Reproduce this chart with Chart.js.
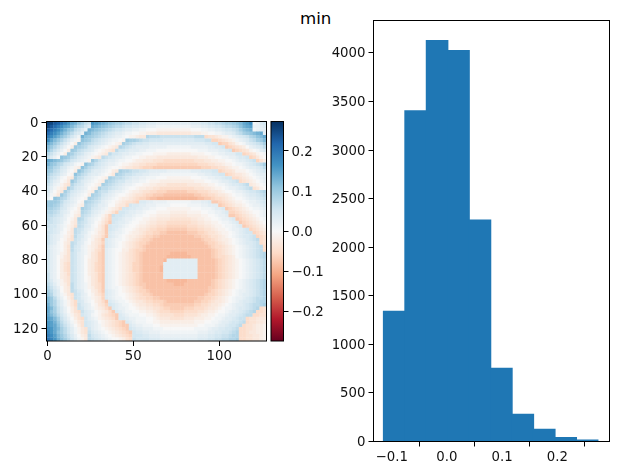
<!DOCTYPE html>
<html>
<head>
<meta charset="utf-8">
<title>min</title>
<script src="https://cdn.jsdelivr.net/npm/chart.js@4"></script>
<style>
  html, body { margin: 0; padding: 0; background: #fff; }
  #page { position: relative; width: 618px; height: 475px; overflow: hidden; }
  canvas { position: absolute; }
  #title { position: absolute; left: 300px; top: 9px; font: 16.67px/20px "DejaVu Sans", sans-serif; color: #000; }
</style>
</head>
<body>
<div id="page">
  <div id="title">min</div>
  <canvas id="heat" width="270" height="270" style="left:0;top:100px"></canvas>
  <canvas id="bar" width="60" height="270" style="left:266px;top:100px"></canvas>
  <canvas id="hist" width="298" height="475" style="left:320px;top:0"></canvas>
</div>
<script>
// image cells, 2x2 px each, one row per string; every letter is a level from levelCodes, spaces are ignored
const levelCodes = 'abcdefghijklmnopqrstuvwxyzABCDEFGHIJKLM';
const levelStart = -0.11;
const levelStep = 0.01;
const heatRows = [
  'LKIHFDBzywusr BAzyxwvuutssrrqqpppoooooo oooopppqqrrsstuuvwxzAC mnpq',
  'KIGECAzxvtsqo zyxwvutssrqqppoonnnmmmmmm mmmmnnnooppqqrsstuwyzA nnop',
  'IGECAywvsrpn y xwvutsrqqpoonnmmlllkkkkkk kkkklllmmnnoopqqrsuwxy mnoo',
  'GECAywusqpn yx vutsrqpoonmmllkkjjjiiiiii iiiijjjkkllmmnooprsuvw xyz o',
  'ECAywusqom ywvutsrqponnmlkkjii tsssrr rrrrrrr r sss ghhijkkmnopqrtuwxz',
  'Czxvtrpnmk wvusrqponmmlk vuutsrrqqqq ppppp pppp qqq rr ffghijkmnoprsuvx',
  'zxvtrpnlj wutsrqponmlkj utsrqqpp oooo oooo oooo oooo ppqq effhiklmopqrsu',
  'xvtrpnlj vutsqponmlkji tsrqpoooo nnnnn mmmmmmm nnnnn oo pp q efghijlnopqs',
  'wtrpnlj vusrqpomlkjih sqqpooonn mmm llll llll llll mmm nnn oo p q efghiklmop',
  'trpnlj vusrqonmlkji sqqpoonnmm lll kkkk jjjjjjj kkkk ll mm nn ooo qq fghiklm',
  'rpnl wvusrponmkji srqpoonmmllkk jjj iiii iiii iiii jjj kk ll mm nn o pp q fgikl',
  'zyxwvtsqponmk vtrqpoonmmllkjj iii hhh ggg ggg ggg hhh ii jj kk ll m n oo p q r fhj',
  'ywvtsqpomlk wutrqponnmlkkjiihh ggg ffff ffff ffff ggg hh ii j kk l mm n o p q r s u',
  'wvtsqpnmkj wusrqponmllkjiihhg fff eeee eeee eeee ee fff gg hh i j kk l m n oo p q s',
  'vusrpomlj wusrpoonmlji uttsrrqqp ooooo nnnnnnn ooo ppp qq fghhikkklmnopq',
  'usrqonlk wusrpoonmlki utsrrqppoo nnn mmmm mmmm mmm nn oo pp qq fghiijklmnoo',
  'trqomlji usrponmlkj utssrqpoonn mmm lll kkkkkkk lll mm nn oo p qq gghijklmno',
  'sqonlki vtrponmlkj utsrqqoonnmml kkk jjjjj jjjjj kkk ll mm n oo p q r ghijklmn',
  'rpnmkih trqpnmlkj utsrqponnmllkkjj iii hhhhhh iiii jj kk l mm n o pp q r s ijklm',
  'qomkjh usqponlkj ussrqponmllkjjiihh ggggg ggggg hhh ii j kk l m nn o p q r s hikl',
  'pnlji usqponmkj usrrponnmlkjjihhgg fff eeeeee fff ggg h ii j k ll m nn o p qq r s t',
  'omki vtrponmlj utsqponmllkjihhgff eee ddddddddd ee ff gg h ii j k l mm n o pp q r s',
  'nl wvtsqonmlk utsrponmlkjjihgffe dd cccc cccc cccc dd ee f gg h i j k ll m n oo p q r',
  'vvvusqponlk utsrqonmlkjihhgf ppoonnnnmmmmmmmnnnoop eefghijkklmnnopq',
  'vvutrponmkj tsrqoonlljiig qppoonnnmmmmlllllmmmmnnooo efghijjklmnnop',
  'uutsqpnmlj utsqponmkjig qqppoonnmmlllkkkkkkklllmmmnoop efghijklmmno',
  'ttsrponlkj tsrponmkjhf qqpoonnmlll kkkk jjjjj kkkk ll mm nn o p ffghijkllmn',
  'ssrqpnmlji srqonmkif rqqpoonmmllkk jjjj iiiii jjjj kk ll m nn o eefghijklmn',
  'srqponlki tsqonmljhf qqponnmllkkjj iiii hhhhhh ii jj kk ll m nn o p efghijklm',
  'rrqpomlji srqonlkige qpoonmllkkjii hhh ggggggg hh ii jj kk l mm n o p efghijkl',
  'rqqonmkjh srpomljhe qpponmllkjjihh ggg ffffff ggg hh ii j kk l mm n o p efghijk',
  'qqponlki srqonmkjhe qponmllkjiihgg fff eeeeee fff gg hh i j kk l m nn o p q fghij',
  'rqpomlji srpomlkihe ponnmlkjjihggffee dddddd eee ff g hh i j kk l m n o p qq fghi',
  'rponmkjh sqpnmkjige ponmlkjjihgffee ddddd ddddd ee ff g hh i j k l m n o pp q r fgh',
  'rponlkih rqonlkihe ponmmlkjihgffe ddddd dddd ddddd e ff g h i jj k l m n o p q r s gh',
  'rpomlji srpomljihf ponmlkjihgffe dddd ddddd dddd ddd e ff g h i j k l m n o pp q r gh',
  'qonmljh sqpnmkjige ponmlkjihgfe ddd dddddd dddddd ddd e f gg h i j k l m n o p q r s g',
  'qonmljh sqpnmkjhge onmlljjhgffe ddd ddddd dddd dddd ddd e f g h i j k l m n o p q r s g',
  'qonmkjh rqonmkihfe onmlkjihgfe ddd ddddd ccccc ddddd dd e f ghijklmnopqrst',
  'qonlkih rqonlkihfe onmlkjihgfe dd ddddd ccccccc dddd dd e f gg h i j l m n o p q r s t',
  'qonljih rqonljihfe onmlkjihgfedddddd c ooooo oooo dddddefghijklmnopqrs',
  'qonljhg rqonljigfe onmlkjihffedddddd ooooo ooooo dddddefghijklmnopqrs',
  'qonljhg rqonljigfe onmlkjihffeddddd c ooooo ooooo dddddefghijklmnopqrs',
  'qonljhg rqonljigfe onmlkjihffeddddd c ooooo ooooo dddddefghijklmnopqrs',
  'ronljig rqonljihfe onmlkjihgfedddddd ooooo ooooo dddddefghijklmnopqrs',
  'ronljih rqonlkihfe onmlkjihgfedddddd ooooo ooooo dddddefghijklmnopqrs',
  'rpnmkih rqonlkihfe onmlkjihgfe ddd dddd cccccc ddddd dd efghijklmnopqrst',
  'sqomkjh sqonmkihge onmlkjihgfee dd dddddd ccc ddddd ddd efghijklmnopqrst',
  'trpnlji sqonmkjhge onmmlkjihgfe ddd dddddd dddddd ddd ee fghijklmnopqrst',
  'usqolji srpomljige ponmlkjihgffe dddd ddddd dddd dddd efghijklmn nopqrst',
  'vtqomkih rqonlkihf ponmllkjihgffe dddd ddddddd dddd e ff g hijklmno opqrst',
  'xvspnljh rqonmkjif ponmmlkjihggffee ddddd dddddd ee ff g hijklmn nopqr sst',
  'xvtqomkig qpnmljige ponmmlkjiihggfff e dddddddd ee ff g h ii j k l m n o pp q r s tt',
  'yvtqomkig rponlkihf qponmmlkjiihhggf eeeee eeee ff gg h ii j k l m n oo p q r ss t u',
  'zxurpnljh rqonmkjige ponnmllkjjiihhg ff eeee fff ggg h ii j k l mm n o pp q r s t gh',
  'zwurpnljhg rponlkjige ponmmllkkjji h ggg ffff gggg hh i jj k ll m n oo p q r s t ggh',
  'zxvsqomkih qpomlkihgfe ponmmmllkkj i hhhh ggg hhhh i jj kk l mm n oo p q r ss gghh',
  'Azxurpnljhg qonmkjihge ppon nmmmllk j iii hhhh iii jjj kk l mm n oo p q rr ghhiii',
  'BAyvsqomkih qponlkjihgfe ponmmmllkk jjjjj jjjjj kkk ll mm n oo p qq r s ghhiij',
  'BAzwtrpnljh qponmkjihgfee ponnmmmll kkkkk kkkkkk ll mmm n oo p qq r s ghhijjk',
  'CBzxusqomkih qonmlkjihgfe qpoonnnmmm lllll llll mmmm n oo pp qq r s gghhijjk',
  'DBzwusqomkih rponmlkjihgfe qppoonnn mmmmm mmmmmm nnn oo pp qq r s t gghiijjk',
  'ECAxvtrpnlji sqponmlkjihgf qqqppooo nnnnn nnnnnn ooo pp qq rr s tt gghhiijk',
  'FDBywusqomki srqponmllkjhg rqqqqppp ooooo oooooo ppp qq rr ss tt u gghhiijk'
];
const rowCells = 64;
const cellSpan = 2;
const colorTicks = [-0.2, -0.1, 0.0, 0.1, 0.2];
const heatXTicks = [0, 50, 100];
const heatYTicks = [0, 20, 40, 60, 80, 100, 120];
const histEdges = [-0.1149, -0.0761, -0.0372, 0.0016, 0.0405, 0.0793, 0.1181, 0.1570, 0.1958, 0.2347, 0.2735];
const histCounts = [1340, 3405, 4128, 4025, 2280, 753, 279, 124, 41, 14];
const histXTicks = [-0.1, 0.0, 0.1, 0.2];
const histYTicks = [0, 500, 1000, 1500, 2000, 2500, 3000, 3500, 4000];

// RdBu stops, low to high
const rdbu = ['#67001f', '#b2182b', '#d6604d', '#f4a582', '#fddbc7', '#f7f7f7', '#d1e5f0', '#92c5de', '#4393c3', '#2166ac', '#053061'];
const colorLimit = 0.2735;
const tickFont = { family: '"DejaVu Sans", sans-serif', size: 13.3 };

function hexRgb(h) {
  return [1, 3, 5].map(k => parseInt(h.substr(k, 2), 16));
}

function levelColor(v) {
  let t = (v + colorLimit) / (2 * colorLimit) * (rdbu.length - 1);
  t = Math.max(0, Math.min(rdbu.length - 1.001, t));
  const k = Math.floor(t);
  const a = hexRgb(rdbu[k]);
  const b = hexRgb(rdbu[k + 1]);
  const c = a.map((x, n) => Math.round(x + (b[n] - x) * (t - k)));
  return 'rgb(' + c.join(',') + ')';
}

function signed(v) {
  return v < 0 ? '\u2212' + Math.abs(v).toFixed(1) : v.toFixed(1);
}

// black box around the plot area, drawn over the marks
const frame = {
  id: 'frame',
  afterDatasetsDraw(chart) {
    const a = chart.chartArea;
    const c = chart.ctx;
    c.save();
    c.strokeStyle = '#000';
    c.lineWidth = 1;
    c.strokeRect(a.left, a.top, a.right - a.left, a.bottom - a.top);
    c.restore();
  }
};

function axis(extra, ticks, size, format, labelShift) {
  return Object.assign({
    type: 'linear',
    border: { display: false },
    grid: { drawOnChartArea: false, drawTicks: true, tickLength: 5, tickColor: '#000', tickWidth: 1 },
    ticks: { color: '#111', font: tickFont, padding: 3, autoSkip: false, maxRotation: 0, labelOffset: labelShift || 0, callback: format },
    afterBuildTicks: s => { s.ticks = ticks.map(v => ({ value: v })); },
    afterFit: s => { if (s.isHorizontal()) s.height = size; else s.width = size; }
  }, extra);
}

const common = {
  responsive: false,
  animation: false,
  events: [],
  plugins: { legend: { display: false }, tooltip: { enabled: false } }
};

// heat map, one square point per cell
const cells = [];
const cellColors = [];
heatRows.forEach((row, j) => {
  const clean = row.replace(/ /g, '');
  for (let i = 0; i < rowCells; i++) {
    const code = clean[Math.min(i, clean.length - 1)];
    const v = levelStart + levelStep * levelCodes.indexOf(code);
    cells.push({ x: i * cellSpan + 0.5, y: j * cellSpan + 0.5 });
    cellColors.push(levelColor(v));
  }
});

new Chart(document.getElementById('heat'), {
  type: 'scatter',
  data: {
    datasets: [{
      data: cells,
      pointStyle: 'rect',
      pointRadius: 2.7,
      pointBorderWidth: 0,
      pointBackgroundColor: cellColors
    }]
  },
  options: Object.assign({}, common, {
    layout: { padding: { top: 21.5, right: 3.5, left: 0, bottom: 0 }, autoPadding: false },
    scales: {
      x: axis({ min: -0.5, max: 127.5 }, heatXTicks, 29, v => String(v)),
      y: axis({ min: -0.5, max: 127.5, reverse: true }, heatYTicks, 46.5, v => String(v), 1)
    }
  }),
  plugins: [frame]
});

// colour bar, a single floating bar filled with the colour map
new Chart(document.getElementById('bar'), {
  type: 'bar',
  data: {
    labels: ['scale'],
    datasets: [{
      data: [[-colorLimit, colorLimit]],
      barPercentage: 1,
      categoryPercentage: 1,
      backgroundColor(ctx) {
        const a = ctx.chart.chartArea;
        if (!a) return '#fff';
        const g = ctx.chart.ctx.createLinearGradient(0, a.bottom, 0, a.top);
        rdbu.forEach((c, k) => g.addColorStop(k / (rdbu.length - 1), c));
        return g;
      }
    }]
  },
  options: Object.assign({}, common, {
    layout: { padding: { top: 21.5, right: 0, left: 5, bottom: 29 }, autoPadding: false },
    scales: {
      x: { display: false },
      y: axis({ position: 'right', min: -colorLimit, max: colorLimit }, colorTicks, 42.5, signed, 1.5)
    }
  }),
  plugins: [frame]
});

// histogram, bars centred between the bin edges
const histBars = histCounts.map((n, k) => ({ x: (histEdges[k] + histEdges[k + 1]) / 2, y: n }));

new Chart(document.getElementById('hist'), {
  type: 'bar',
  data: {
    datasets: [{
      data: histBars,
      backgroundColor: '#1f77b4',
      barPercentage: 1,
      categoryPercentage: 1,
      inflateAmount: 0.6
    }]
  },
  options: Object.assign({}, common, {
    layout: { padding: { top: 20.5, right: 8.5, left: 0, bottom: 0 }, autoPadding: false },
    scales: {
      x: axis({ min: -0.133, max: 0.2946, offset: false }, histXTicks, 33.5, signed),
      y: axis({ min: 0, max: 4334 }, histYTicks, 53.5, v => String(v), 1)
    }
  }),
  plugins: [frame]
});
</script>
</body>
</html>
